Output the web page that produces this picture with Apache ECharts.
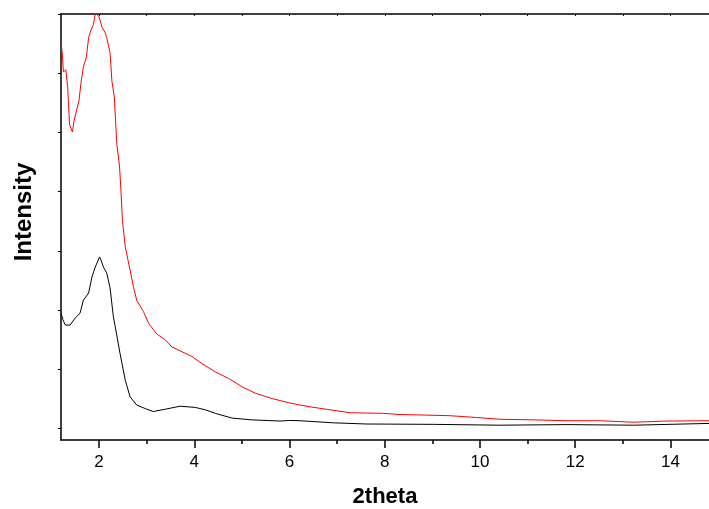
<!DOCTYPE html>
<html>
<head>
<meta charset="utf-8">
<script src="https://cdn.jsdelivr.net/npm/echarts@6/dist/echarts.min.js"></script>
<style>html,body{margin:0;padding:0;background:#fff;}#c{width:709px;height:509px;}</style>
</head>
<body>
<div id="c"></div>
<script>
// 2theta values and intensities (a.u.)
const redX = [1.20,1.23,1.25,1.30,1.34,1.38,1.44,1.47,1.53,1.58,1.62,1.67,1.73,1.78,1.83,1.88,1.92,1.94,1.96,2.00,2.06,2.13,2.16,2.23,2.27,2.32,2.37,2.43,2.46,2.49,2.55,2.65,2.72,2.79,2.93,3.04,3.21,3.39,3.53,3.74,3.95,4.16,4.44,4.72,5.00,5.28,5.63,5.98,6.22,6.43,6.85,7.27,7.97,8.32,8.88,9.37,9.93,10.42,11.12,11.83,12.53,13.23,13.93,14.81];
const redY = [651,631,602,606,577,513,501,518,538,555,584,611,626,660,673,682,700,720,699,695,678,668,660,635,586,560,483,442,400,352,307,268,240,217,198,178,160,150,138,130,122,110,96,85,71,60,51,44,40,37,32,27,26,24,23,22,19,16,15,13.5,13.5,11,13,13.5];
const blackX = [1.20,1.24,1.29,1.39,1.50,1.60,1.67,1.78,1.85,1.92,2.01,2.04,2.09,2.16,2.23,2.30,2.34,2.44,2.55,2.65,2.79,2.97,3.14,3.39,3.70,4.02,4.23,4.44,4.79,5.20,5.80,6.00,6.22,6.92,7.62,9.02,10.42,11.83,13.23,14.81];
const blackY = [195,184,175,175,187,195,217,229,256,273,290,285,273,263,238,189,172,127,82,54,40,34,29,33,38,36,32,26,18,15,13,14,13.5,10,8,7.4,6,7,6,9];
const xTicks = [2,4,6,8,10,12,14];
const xMinorTicks = [3,5,7,9,11,13];
const topTicks = [2,3,4,5,6,7,8,9,10,11,12,13,14];
const yTicks = [0,100,200,300,400,500,600,700];

const redData = redX.map((x,i)=>[x,redY[i]]);
const blackData = blackX.map((x,i)=>[x,blackY[i]]);
const font = '"Liberation Sans", Arial, sans-serif';
const chart = echarts.init(document.getElementById('c'), null, {renderer:'canvas'});
chart.setOption({
  animation:false,
  backgroundColor:'#fff',
  grid:{left:61,right:0,top:14,bottom:69,containLabel:false,outerBoundsMode:'none'},
  xAxis:[
    {type:'value',min:1.2,max:14.81,position:'bottom',
     axisLine:{show:true,onZero:false,lineStyle:{color:'#000',width:1.5}},
     axisTick:{show:true,inside:false,length:8,lineStyle:{color:'#000',width:1.5},customValues:xTicks},
     axisLabel:{show:true,customValues:xTicks,color:'#000',fontSize:17,fontFamily:font,margin:14},
     splitLine:{show:false},
     name:'2theta',nameLocation:'middle',nameGap:46,
     nameTextStyle:{color:'#000',fontSize:22,fontWeight:'bold',fontFamily:font}},
    {type:'value',min:1.2,max:14.81,position:'bottom',
     axisLine:{show:false,onZero:false},
     axisTick:{show:true,inside:false,length:4,lineStyle:{color:'#000',width:1.5},customValues:xMinorTicks},
     axisLabel:{show:false},splitLine:{show:false}},
    {type:'value',min:1.2,max:14.81,position:'top',
     axisLine:{show:true,onZero:false,lineStyle:{color:'#000',width:1.5}},
     axisTick:{show:true,inside:true,length:2,lineStyle:{color:'#000',width:1},customValues:topTicks},
     axisLabel:{show:false},splitLine:{show:false}}
  ],
  yAxis:[
    {type:'value',min:-19,max:700,
     axisLine:{show:true,onZero:false,lineStyle:{color:'#000',width:1.5}},
     axisTick:{show:true,inside:false,length:3,lineStyle:{color:'#000',width:1},customValues:yTicks},
     axisLabel:{show:false},splitLine:{show:false}}
  ],
  graphic:[
    {type:'text',x:24,y:212,rotation:Math.PI/2,
     style:{text:'Intensity',fill:'#000',font:'bold 24px '+font,textAlign:'center',textVerticalAlign:'middle'}}
  ],
  series:[
    {type:'line',data:blackData,xAxisIndex:0,yAxisIndex:0,showSymbol:false,symbol:'none',clip:true,
     lineStyle:{color:'#000',width:1},itemStyle:{color:'#000'}},
    {type:'line',data:redData,xAxisIndex:0,yAxisIndex:0,showSymbol:false,symbol:'none',clip:true,
     lineStyle:{color:'#ff0000',width:1},itemStyle:{color:'#ff0000'}}
  ]
});
</script>
</body>
</html>
